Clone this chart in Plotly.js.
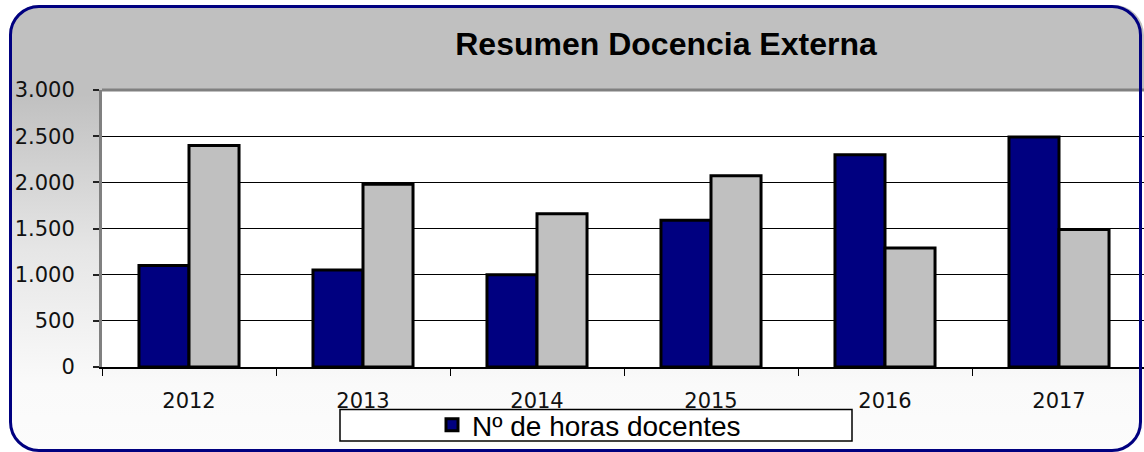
<!DOCTYPE html>
<html>
<head>
<meta charset="utf-8">
<script src="https://cdn.plot.ly/plotly-3.0.1.min.js"></script>
<style>
  html, body { margin: 0; padding: 0; width: 1144px; height: 452px; overflow: hidden; background: #ffffff; }
  #bg { position: absolute; left: 9px; top: 5px; width: 1135px; height: 447px; box-sizing: border-box;
        border-radius: 30px; background: linear-gradient(to bottom, #c0c0c0 0%, #c0c0c0 20%, #e6e6e6 55%, #fafafa 85%, #fcfcfc 100%); }
  #frame { position: absolute; left: 9px; top: 5px; width: 1133px; height: 447px; box-sizing: border-box;
        border: 3px solid #000080; border-radius: 30px; pointer-events: none; z-index: 5; }
  #chart { position: absolute; left: 0; top: 0; width: 1148px; height: 452px; z-index: 2; }
</style>
</head>
<body>
<div id="bg"></div>
<div id="chart"></div>
<div id="frame"></div>
<script>
const years = ["2012", "2013", "2014", "2015", "2016", "2017"];
const horasDocentes = [1100, 1050, 1000, 1590, 2300, 2490];
const segundaSerie = [2400, 1980, 1660, 2070, 1290, 1490];
const yTickVals = [0, 500, 1000, 1500, 2000, 2500, 3000];
const yTickText = ["0", "500", "1.000", "1.500", "2.000", "2.500", "3.000"];
const seriesName = "Nº de horas docentes";
const chartTitle = "Resumen Docencia Externa";

const W = 1148, H = 452;
const mL = 102, mR = 2, mT = 90, mB = 81;
const plotW = W - mL - mR, plotH = H - mT - mB;

const traces = [
  { type: "bar", x: years, y: horasDocentes, name: seriesName,
    marker: { color: "#000080", line: { color: "#000000", width: 3 } }, showlegend: true },
  { type: "bar", x: years, y: segundaSerie, name: "",
    marker: { color: "#c0c0c0", line: { color: "#000000", width: 3 } }, showlegend: false }
];

const layout = {
  width: W, height: H,
  margin: { l: mL, r: mR, t: mT, b: mB, pad: 0 },
  paper_bgcolor: "rgba(0,0,0,0)",
  plot_bgcolor: "#ffffff",
  barmode: "group", bargap: 0.425, bargroupgap: 0,
  title: { text: chartTitle, xref: "container", yref: "container",
           x: 666 / W, xanchor: "center", y: 1 - 44 / H, yanchor: "middle",
           font: { family: "Liberation Sans, Arial, sans-serif", size: 32, color: "#000000", weight: "bold" } },
  xaxis: { type: "category", tickson: "boundaries", ticks: "outside", ticklen: 7, tickwidth: 1, tickcolor: "#000000",
           showline: true, linecolor: "#000000", linewidth: 2, showgrid: false, zeroline: false,
           ticklabelstandoff: 14,
           tickfont: { family: "DejaVu Sans, Verdana, sans-serif", size: 21, color: "#111111" },
           fixedrange: true },
  yaxis: { range: [0, 3000], tickvals: yTickVals, ticktext: yTickText, ticks: "outside", ticklen: 6, tickwidth: 2, tickcolor: "#222222",
           showline: true, linecolor: "#808080", linewidth: 3, showgrid: true, gridcolor: "#000000", gridwidth: 1,
           zeroline: false, ticklabelstandoff: 14,
           tickfont: { family: "DejaVu Sans, Verdana, sans-serif", size: 21, color: "#111111" },
           fixedrange: true },
  shapes: [
    { type: "line", xref: "paper", yref: "paper", x0: 0, x1: 1, y0: 1, y1: 1,
      line: { color: "#808080", width: 3 } },
    { type: "rect", xref: "paper", yref: "paper", layer: "below",
      x0: (340 - mL) / plotW, x1: (852 - mL) / plotW,
      y0: -(446 - (H - mB)) / plotH, y1: -(414 - (H - mB)) / plotH,
      fillcolor: "#ffffff", line: { color: "#000000", width: 1.5 } }
  ],
  showlegend: true,
  legend: { xref: "paper", yref: "paper", x: (432 - mL) / plotW, xanchor: "left",
            y: -(430 - (H - mB)) / plotH, yanchor: "middle", orientation: "h",
            bgcolor: "rgba(0,0,0,0)", borderwidth: 0,
            font: { family: "Liberation Sans, Arial, sans-serif", size: 28, color: "#000000" } }
};

Plotly.newPlot("chart", traces, layout, { displayModeBar: false, staticPlot: true });
</script>
</body>
</html>
